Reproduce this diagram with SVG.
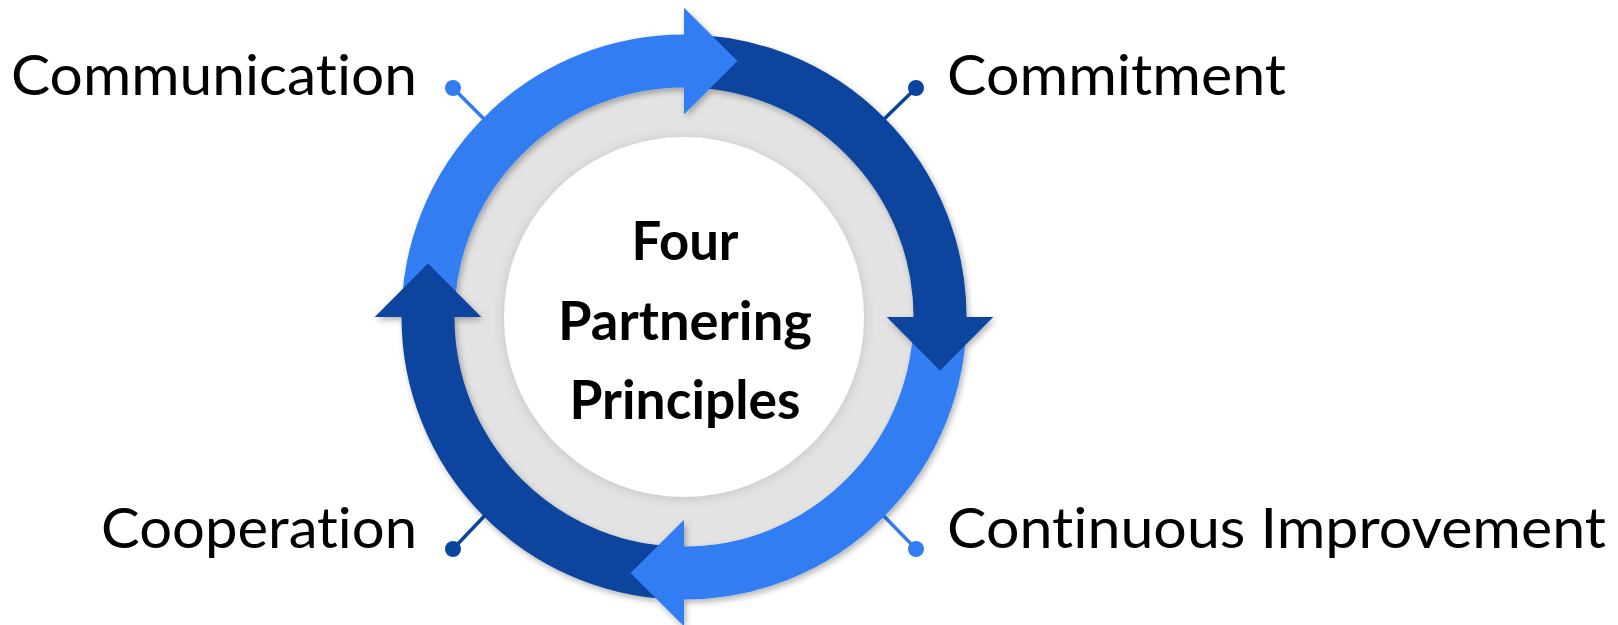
<svg xmlns="http://www.w3.org/2000/svg" width="1618" height="625" viewBox="0 0 1618 625">
  <defs>
    <style>
      text { font-variant-ligatures: none; font-feature-settings: "liga" 0, "clig" 0; }
      .lbl { font-family: Lato, "Open Sans", "Liberation Sans", sans-serif; font-size: 56px; fill: #000; }
      .ctr { font-family: Lato, "Open Sans", "Liberation Sans", sans-serif; font-size: 53px; font-weight: bold; fill: #000; text-anchor: middle; }
      .band { fill: none; stroke-width: 53; }
      .light { stroke: #317DF1; }
      .dark { stroke: #0A449E; }
      .lightf { fill: #317DF1; }
      .darkf { fill: #0A449E; }
      .conn { stroke-width: 3.5; fill: none; }
    </style>
    <filter id="shadow" x="-20%" y="-20%" width="140%" height="140%">
      <feDropShadow dx="2" dy="3" stdDeviation="3" flood-color="#000" flood-opacity="0.3"/>
    </filter>
    <filter id="soft" x="-20%" y="-20%" width="140%" height="140%">
      <feDropShadow dx="0" dy="1" stdDeviation="6" flood-color="#000" flood-opacity="0.15"/>
    </filter>
  </defs>
  <rect width="1618" height="625" fill="#fff"/>

  <g id="connectors">
    <line class="conn light" x1="453" y1="88" x2="492" y2="127"/>
    <line class="conn dark" x1="916" y1="88" x2="876" y2="127"/>
    <line class="conn dark" x1="453" y1="549" x2="492" y2="508"/>
    <line class="conn light" x1="916" y1="549" x2="876" y2="508"/>
  </g>

  <g id="center">
    <circle cx="684" cy="317" r="229.5" fill="#E3E3E3"/>
    <circle cx="684" cy="317" r="180" fill="#fff" filter="url(#soft)"/>
    <text class="ctr" x="685" y="260" textLength="107" lengthAdjust="spacingAndGlyphs">Four</text>
    <text class="ctr" x="685" y="340" textLength="254" lengthAdjust="spacingAndGlyphs">Partnering</text>
    <text class="ctr" x="685" y="419" textLength="231" lengthAdjust="spacingAndGlyphs">Principles</text>
  </g>

  <g id="cycle" filter="url(#shadow)">
    <path class="band light" d="M 428 317 A 256 256 0 0 1 684 61"/>
    <path class="band dark" d="M 684 61 A 256 256 0 0 1 940 317"/>
    <path class="band light" d="M 940 317 A 256 256 0 0 1 684 573"/>
    <path class="band dark" d="M 684 573 A 256 256 0 0 1 428 317"/>
    <polygon class="lightf" points="684,7.7 684,114.3 737.5,61"/>
    <polygon class="darkf" points="993.3,317 886.7,317 940,370.5"/>
    <polygon class="lightf" points="684,626.3 684,519.7 630.5,573"/>
    <polygon class="darkf" points="374.7,317 481.3,317 428,263.5"/>
  </g>

  <g id="node-communication">
    <circle cx="453" cy="88" r="8" class="lightf"/>
    <text class="lbl" x="11" y="95" textLength="406" lengthAdjust="spacingAndGlyphs">Communication</text>
  </g>
  <g id="node-commitment">
    <circle cx="916" cy="88" r="8" class="darkf"/>
    <text class="lbl" x="947" y="95" textLength="339" lengthAdjust="spacingAndGlyphs">Commitment</text>
  </g>
  <g id="node-cooperation">
    <circle cx="453" cy="549" r="8" class="darkf"/>
    <text class="lbl" x="101" y="548" textLength="316" lengthAdjust="spacingAndGlyphs">Cooperation</text>
  </g>
  <g id="node-continuous-improvement">
    <circle cx="916" cy="549" r="8" class="lightf"/>
    <text class="lbl" x="947" y="548" textLength="659" lengthAdjust="spacingAndGlyphs">Continuous Improvement</text>
  </g>
</svg>
